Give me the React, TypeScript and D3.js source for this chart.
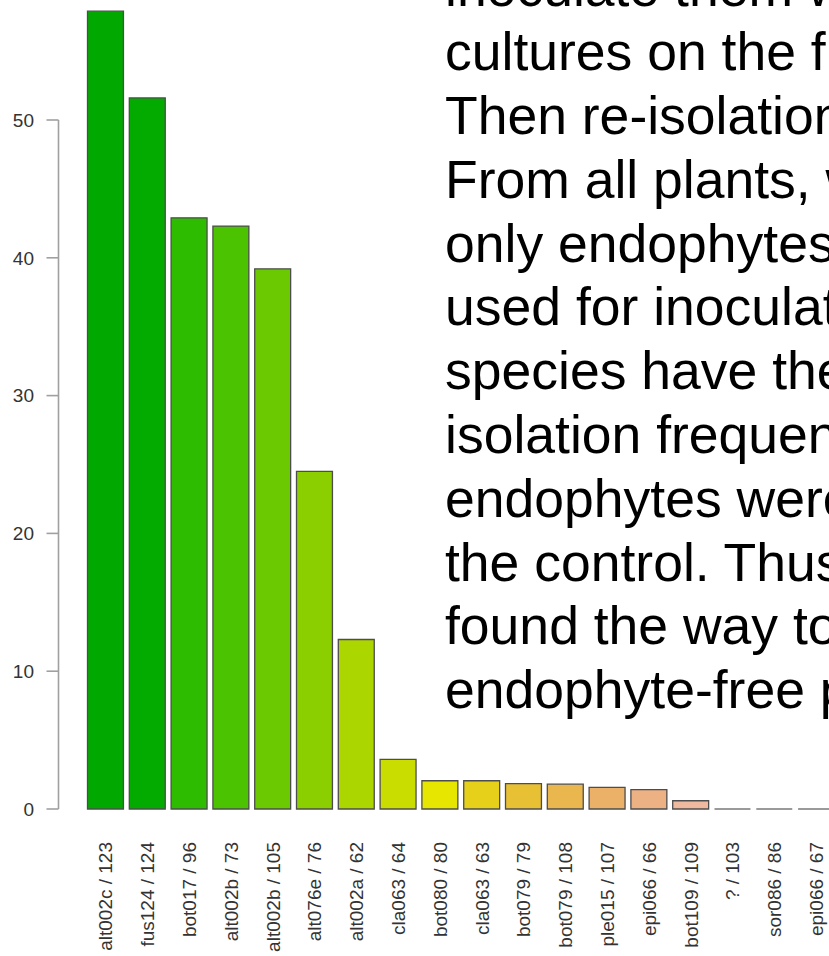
import React from "react";
import * as d3 from "d3";

const categories = [
  "alt002c / 123", "fus124 / 124", "bot017 / 96", "alt002b / 73", "alt002b / 105",
  "alt076e / 76", "alt002a / 62", "cla063 / 64", "bot080 / 80", "cla063 / 63",
  "bot079 / 79", "bot079 / 108", "ple015 / 107", "epi066 / 66", "bot109 / 109",
  "? / 103", "sor086 / 86", "epi066 / 67",
];
const values = [57.9, 51.6, 42.9, 42.3, 39.2, 24.5, 12.3, 3.6, 2.05, 2.05, 1.84, 1.8, 1.57, 1.4, 0.6, 0, 0, 0];
const barColors = [
  "#00A800", "#03AA00", "#2EBC00", "#4BC300", "#6AC900", "#8BCF00", "#ACD600", "#C9DD00", "#E6E600",
  "#E7D01A", "#E8C034", "#EAB64E", "#EBB168", "#EDB284", "#EEB99F", "#EFC6BA", "#F1D9D6", "#F2F2F2",
];
const yTicks = [0, 10, 20, 30, 40, 50];
const textLines = [
  "inoculate them with",
  "cultures on the flowers.",
  "Then re-isolation",
  "From all plants, we",
  "only endophytes",
  "used for inoculation",
  "species have the",
  "isolation frequency",
  "endophytes were",
  "the control. Thus",
  "found the way to",
  "endophyte-free plants",
];

const W = 829;
const H = 956;

export default function App() {
  const y = d3.scaleLinear().domain([0, 50]).range([809, 120]);
  const x = d3
    .scaleBand<string>()
    .domain(categories.map((c, i) => i + ""))
    .range([81.65, 81.65 + 41.8 * 18.14])
    .padding(0.14);
  const axisX = 58.5;
  const font = "'Liberation Sans', Arial, Helvetica, sans-serif";

  return (
    <svg
      width={W}
      height={H}
      style={{ position: "absolute", left: 0, top: 0, background: "#fff" }}
      fontFamily={font}
    >
      <rect x={0} y={0} width={W} height={H} fill="#fff" />
      {/* y axis */}
      <line x1={axisX} x2={axisX} y1={y(0)} y2={y(50)} stroke="#a0a0a0" strokeWidth={1.6} />
      {yTicks.map((t) => (
        <g key={t}>
          <line x1={axisX - 12} x2={axisX} y1={y(t)} y2={y(t)} stroke="#a0a0a0" strokeWidth={1.6} />
          <text x={34} y={y(t)} dy="0.36em" textAnchor="end" fontSize={19} fill="#333">
            {t}
          </text>
        </g>
      ))}
      {/* bars */}
      {values.map((v, i) => {
        const x0 = x(i + "")!;
        const w = x.bandwidth();
        const p = d3.path();
        p.moveTo(x0, y(0));
        p.lineTo(x0, y(v));
        p.lineTo(x0 + w, y(v));
        p.lineTo(x0 + w, y(0));
        p.closePath();
        return (
          <path
            key={i}
            d={p.toString()}
            fill={barColors[i]}
            stroke={v === 0 ? "#9a9a9a" : "#4d4d4d"}
            strokeWidth={v === 0 ? 2 : 1.3}
          />
        );
      })}
      {/* x labels */}
      {categories.map((c, i) => {
        const cx = x(i + "")! + x.bandwidth() / 2;
        return (
          <text
            key={i}
            transform={`translate(${cx},842) rotate(-90)`}
            dy="0.36em"
            textAnchor="end"
            fontSize={19}
            fill="#333"
          >
            {c}
          </text>
        );
      })}
      {/* overlaid text */}
      {textLines.map((t, i) => (
        <text key={i} x={445} y={6.3 + 63.8 * i} fontSize={53.5} fill="#000">
          {t}
        </text>
      ))}
    </svg>
  );
}
